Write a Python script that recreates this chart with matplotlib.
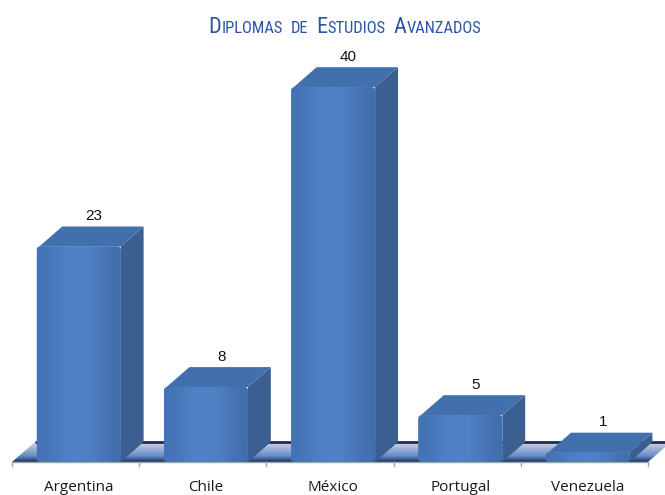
import numpy as np
import matplotlib.pyplot as plt
from matplotlib.patches import Polygon, FancyBboxPatch
from matplotlib import font_manager

# datos
categorias = ['Argentina', 'Chile', 'México', 'Portugal', 'Venezuela']
valores = [23, 8, 40, 5, 1]
titulo = 'Diplomas de Estudios Avanzados'

fig = plt.figure(figsize=(6.65, 4.95), dpi=100)
ax = fig.add_axes([0, 0, 1, 1])
ax.set_xlim(-0.594, 4.634)
ax.set_ylim(-3.52, 49.3)
ax.axis('off')

dx, dy = 0.18, 2.13   # profundidad 3d
w = 0.66
off = 0.025
n = len(categorias)

# suelo
floor = Polygon([(-0.5, 0), (n - 0.5, 0), (n - 0.5 + dx, dy), (-0.5 + dx, dy)],
                closed=True, facecolor='none', edgecolor='none', zorder=1)
ax.add_patch(floor)
grad = np.linspace(0, 1, 64)
c_back = np.array([30, 50, 95]) / 255
c_mid = np.array([100, 140, 200]) / 255
c_front = np.array([215, 212, 225]) / 255
rows = []
for g in grad:
    if g < 0.3:
        t = g / 0.3
        rows.append(c_back * (1 - t) + c_mid * t)
    else:
        t = (g - 0.3) / 0.7
        rows.append(c_mid * (1 - t) + c_front * t)
img = np.array(rows)[:, None, :].repeat(2, axis=1)
im = ax.imshow(img, extent=(-0.5, n - 0.5 + dx, dy, 0), aspect='auto',
               origin='upper', zorder=1, interpolation='bilinear')
im.set_clip_path(floor)
ax.plot([-0.5 + dx, n - 0.5 + dx], [dy, dy], color='#1c2f55', lw=2, zorder=1.5,
        solid_capstyle='butt')
ax.plot([-0.5, n - 0.5], [0, 0], color='#a6a6a6', lw=1, zorder=1.5)
for b in np.arange(n + 1) - 0.5:
    ax.plot([b, b], [0, -0.45], color='#a6a6a6', lw=1, zorder=1.5)

# barras
front_cmap = np.array([[68, 114, 180], [78, 128, 196], [80, 131, 198],
                       [77, 126, 192], [66, 110, 172]]) / 255
for i, (cat, v) in enumerate(zip(categorias, valores)):
    x0 = i - w / 2 + off
    side = Polygon([(x0 + w, 0), (x0 + w + dx, dy), (x0 + w + dx, v + dy), (x0 + w, v)],
                   closed=True, facecolor='#3b5f91', edgecolor='none', zorder=3)
    top = Polygon([(x0 + 0.02, v), (x0 + w, v), (x0 + w + dx, v + dy), (x0 + dx + 0.02, v + dy)],
                  closed=True, facecolor='#4270ad', edgecolor='none', zorder=3)
    ax.add_patch(side)
    ax.add_patch(top)
    front = FancyBboxPatch((x0, 0), w, v, boxstyle='round,pad=0,rounding_size=0.03',
                           mutation_aspect=13.8, facecolor='#4f81c4', edgecolor='none', zorder=4)
    ax.add_patch(front)
    fimg = front_cmap[None, :, :]
    fi = ax.imshow(fimg, extent=(x0, x0 + w, 0, v), aspect='auto', zorder=4.5,
                   interpolation='bicubic')
    fi.set_clip_path(front)
    ax.text(i + off + 0.12, v + dy + 0.35, str(v), ha='center', va='bottom',
            fontsize=11, family='Liberation Sans', color='#111111', zorder=6)
    ax.text(i + off, -2.75, cat, ha='center', va='center', fontsize=11,
            family='Open Sans', color='#1a1a1a')

ax.set_xlim(-0.594, 4.634)
ax.set_ylim(-3.52, 49.3)

# titulo en versalitas
names = {f.name for f in font_manager.fontManager.ttflist}
tfam = 'DejaVu Sans'
for cand in ['Liberation Sans Narrow', 'Roboto Condensed', 'Open Sans Condensed', 'Roboto']:
    if cand in names:
        tfam = cand
        break
renderer = fig.canvas.get_renderer()
piezas = []
for palabra in titulo.split(' '):
    trozos = []
    if palabra[0].isupper():
        trozos.append((palabra[0], 1.0))
        resto = palabra[1:]
    else:
        resto = palabra
    trozos.append((resto.upper(), 0.74))
    piezas.append(trozos)

base = 20
gap = 8
ancho_obj = 272


def colocar(base):
    objs = []
    for k, trozos in enumerate(piezas):
        for s, r in trozos:
            t = fig.text(0, 0, s, fontsize=base * r, family=tfam, stretch='condensed',
                         color='#2a54a6', ha='left', va='baseline', transform=None)
            objs.append((t, t.get_window_extent(renderer).width, k))
    return objs


textos = colocar(base)
total = sum(t[1] for t in textos) + gap * (len(piezas) - 1)
if total > ancho_obj * 1.03:
    for t, _, _ in textos:
        t.remove()
    base = base * (ancho_obj - gap * (len(piezas) - 1)) / (total - gap * (len(piezas) - 1))
    textos = colocar(base)
    total = sum(t[1] for t in textos) + gap * (len(piezas) - 1)

x = 345 - total / 2
prev = 0
for t, wpx, k in textos:
    if k != prev:
        x += gap
        prev = k
    t.set_position((x, 495 - 33))
    x += wpx

fig.savefig('out.png', dpi=100)
